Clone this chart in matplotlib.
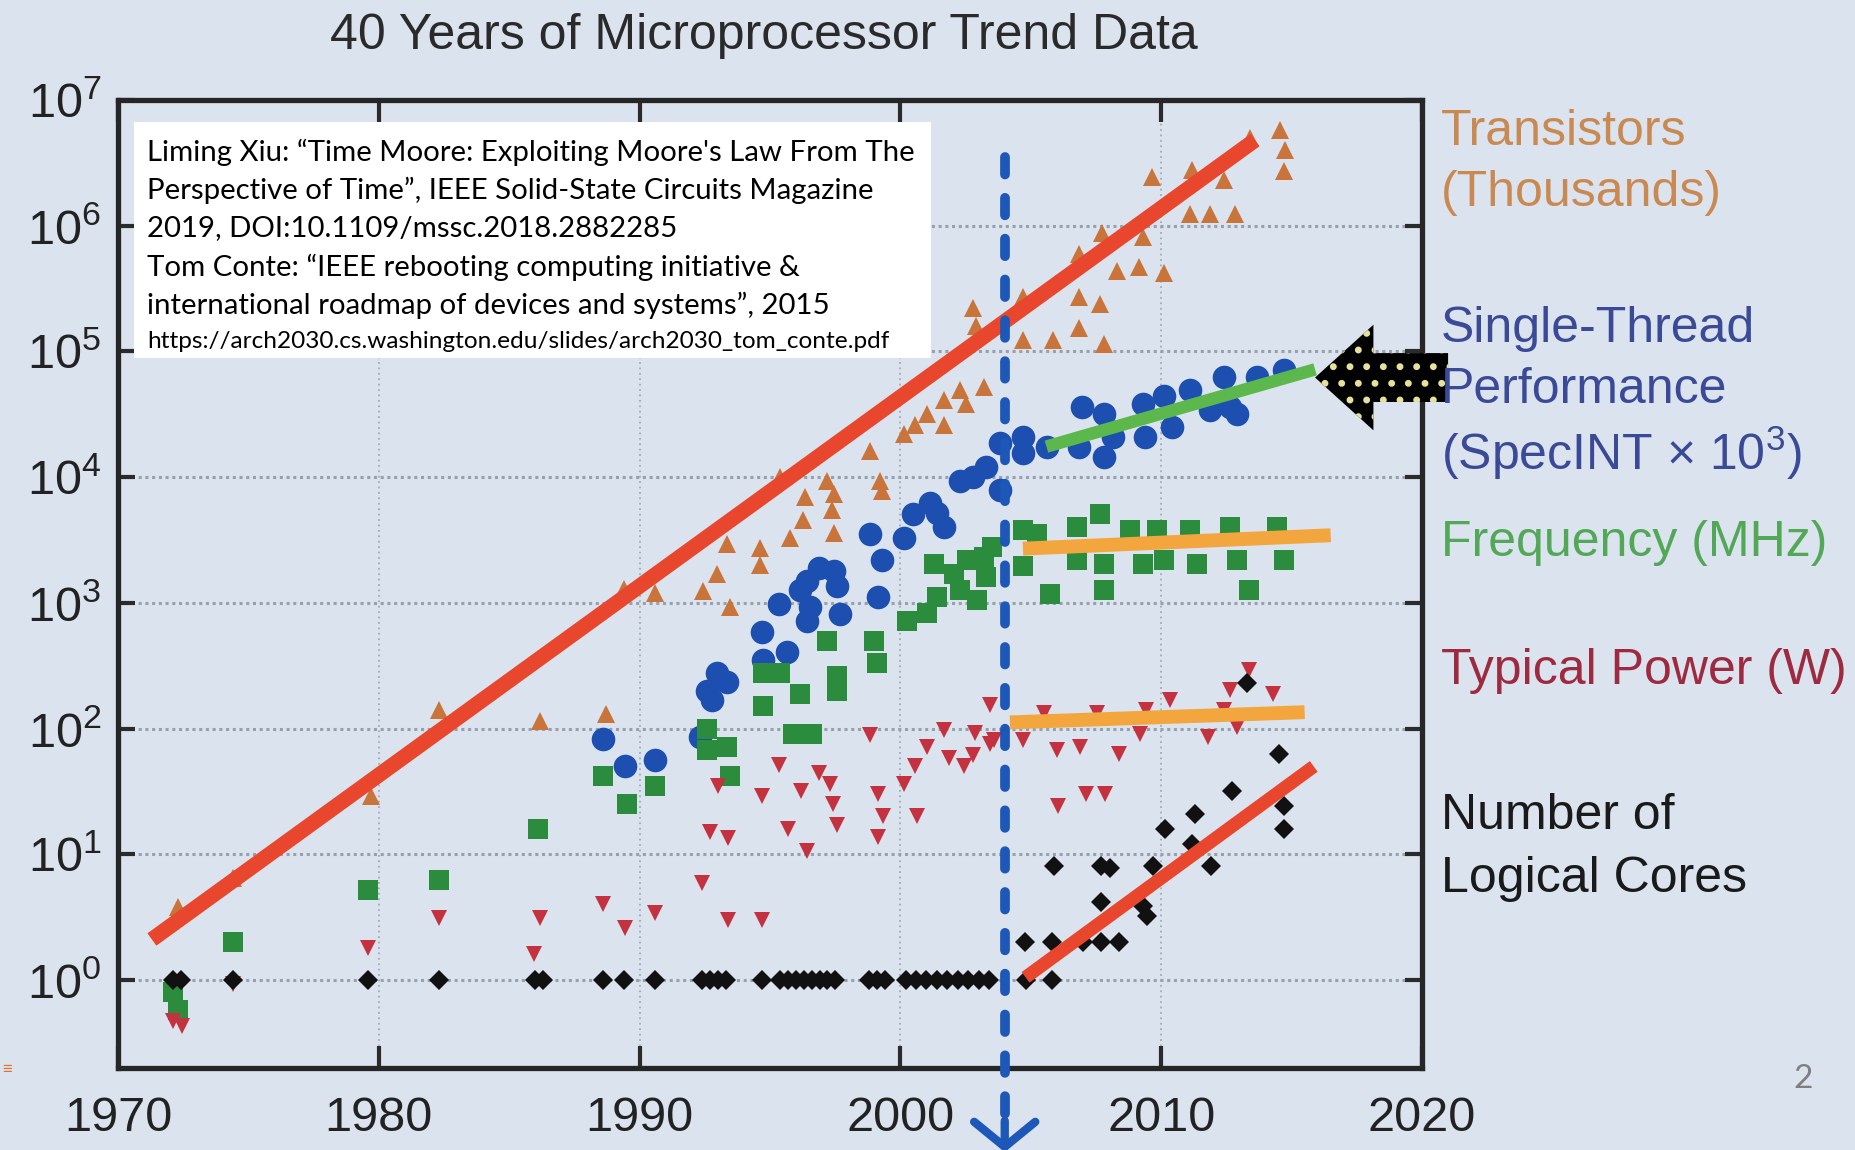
import matplotlib
matplotlib.use('Agg')
from matplotlib import pyplot as plt
from matplotlib.patches import Rectangle
from matplotlib.ticker import FixedLocator, FuncFormatter, NullLocator
import numpy as np

plt.rcParams['font.family'] = ['Liberation Sans', 'DejaVu Sans']
plt.rcParams['mathtext.fontset'] = 'custom'
plt.rcParams['mathtext.rm'] = 'Liberation Sans'
plt.rcParams['mathtext.it'] = 'Liberation Sans:italic'
plt.rcParams['mathtext.bf'] = 'Liberation Sans:bold'
plt.rcParams['hatch.linewidth'] = 2.5

BG = '#dbe3ef'

# --- data ------------------------------------------------------------------
transistor_years = [1972.3, 1974.4, 1979.7, 1982.3, 1986.2, 1988.7, 1989.4, 1990.6, 1992.45, 1992.96,
                    1993.47, 1993.34, 1994.62, 1994.62, 1995.77, 1996.28, 1996.35, 1997.18, 1997.44,
                    1997.37, 1997.44, 1995.39, 1998.84, 1999.23, 1999.29, 2000.12, 2000.57, 2001.02,
                    2001.66, 2001.66, 2002.3, 2002.5, 2003.2, 2002.8, 2002.9, 2004.72, 2004.72, 2005.87,
                    2006.83, 2006.83, 2006.83, 2007.72, 2007.66, 2007.79, 2008.3, 2009.13, 2009.3,
                    2010.09, 2009.64, 2011.11, 2011.18, 2011.88, 2012.4, 2012.84, 2013.41, 2014.57,
                    2014.76, 2014.7]
transistor_values = [3.8, 6.5, 29, 140, 115, 130, 1300, 1200, 1250, 1700,
                     930, 2950, 2750, 2000, 3300, 4600, 6900, 9300, 7400,
                     5500, 3600, 10000, 16000, 9300, 7800, 22000, 26000, 32000,
                     26000, 41000, 49000, 38000, 52000, 220000, 160000, 270000, 123000, 123000,
                     600000, 270000, 155000, 870000, 240000, 115000, 440000, 470000, 810000,
                     420000, 2.45e6, 1.23e6, 2.75e6, 1.23e6, 2.3e6, 1.23e6, 5.0e6, 5.75e6,
                     4.0e6, 2.7e6]

single_thread_years = [1988.6, 1989.44, 1990.6, 1992.32, 1992.77, 1992.96, 1993.34, 1992.58, 1994.69,
                       1994.75, 1995.65, 1995.33, 1996.16, 1996.41, 1996.86, 1997.44, 1997.57, 1997.69,
                       1996.41, 1996.54, 1998.84, 1999.29, 1999.16, 2000.12, 2000.5, 2001.14, 2001.66,
                       2001.4, 2002.3, 2002.8, 2003.3, 2003.83, 2003.83, 2004.72, 2004.72, 2005.61,
                       2006.83, 2006.96, 2007.79, 2007.79, 2008.17, 2009.32, 2009.39, 2010.09, 2010.41,
                       2011.11, 2011.88, 2012.4, 2012.65, 2012.9, 2013.67, 2014.7]
single_thread_values = [83, 50, 56, 85, 170, 275, 235, 200, 590,
                        350, 410, 980, 1260, 1500, 1900, 1780, 1350, 810,
                        720, 930, 3550, 2200, 1120, 3300, 5100, 6200, 4000,
                        5200, 9300, 10000, 12000, 18600, 7900, 21000, 15500, 17400,
                        17400, 36000, 32000, 14500, 21000, 38000, 21000, 44000, 25000,
                        49000, 34000, 63000, 36000, 32000, 63000, 71000]

frequency_years = [1972.1, 1972.3, 1974.4, 1979.6, 1982.3, 1986.1, 1988.6, 1989.5, 1990.6, 1992.58,
                   1992.58, 1993.34, 1993.47, 1994.75, 1994.75, 1995.39, 1996.16, 1995.9, 1996.6,
                   1997.18, 1997.57, 1997.57, 1998.97, 1999.1, 2000.25, 2001.02, 2001.4, 2001.27,
                   2002.04, 2002.55, 2002.93, 2003.3, 2003.2, 2002.3, 2003.5, 2004.72, 2004.72,
                   2005.74, 2005.23, 2006.77, 2006.77, 2007.66, 2007.79, 2007.79, 2008.81, 2009.32,
                   2009.83, 2010.09, 2011.11, 2011.37, 2012.65, 2012.9, 2013.35, 2014.44, 2014.7]
frequency_values = [0.81, 0.58, 2.0, 5.2, 6.2, 16, 42, 25, 35, 100,
                    68, 71, 42, 150, 275, 275, 190, 91, 91,
                    500, 260, 200, 500, 330, 720, 830, 1120, 2040,
                    1700, 2200, 1050, 1600, 2300, 1260, 2800, 3800, 1950,
                    1170, 3550, 4000, 2200, 5100, 2040, 1260, 3800, 2040,
                    3800, 2200, 3800, 2040, 4000, 2200, 1260, 4000, 2200]

power_years = [1972.1, 1972.45, 1974.4, 1979.6, 1982.3, 1986.2, 1985.95, 1988.6, 1989.44, 1990.6,
               1992.4, 1992.7, 1993.4, 1993.4, 1994.7, 1993.0, 1994.7, 1995.33, 1995.7, 1996.2,
               1996.4, 1996.86, 1997.3, 1997.4, 1997.56, 1998.84, 1999.16, 1999.35, 1999.16, 2000.12,
               2000.57, 2000.63, 2001.02, 2001.66, 2001.85, 2002.42, 2002.8, 2002.87, 2003.44, 2003.44,
               2003.6, 2004.72, 2005.5, 2006.0, 2006.06, 2006.9, 2007.1, 2007.53, 2007.85, 2008.4,
               2009.2, 2009.4, 2010.35, 2011.8, 2012.4, 2012.65, 2012.9, 2013.35, 2014.3]
power_values = [0.47, 0.43, 0.93, 1.8, 3.1, 3.1, 1.6, 4.0, 2.6, 3.4,
                5.9, 15, 13.5, 3.0, 3.0, 35, 29, 51, 16, 32,
                10.7, 44, 36, 25, 17, 89, 30, 20, 13.8, 36,
                50, 20, 71, 98, 58, 50, 62, 93, 76, 155,
                81, 81, 132, 68, 24, 71, 30, 132, 30, 63,
                91, 141, 170, 85, 141, 204, 102, 290, 190]

cores_years = [1972.1, 1972.4, 1974.4, 1979.6, 1982.3, 1986.0, 1986.3, 1988.6, 1989.4, 1990.6,
               1992.4, 1992.7, 1993.0, 1993.3, 1994.7, 1995.4, 1995.7, 1996.0, 1996.3, 1996.6,
               1996.9, 1997.2, 1997.5, 1998.8, 1999.1, 1999.4, 2000.2, 2000.6, 2001.0, 2001.4,
               2001.8, 2002.2, 2002.6, 2003.0, 2003.4, 2004.8, 2005.8, 2004.78, 2005.8, 2007.0,
               2007.7, 2008.4, 2005.9, 2007.7, 2008.05, 2007.7, 2009.3, 2009.45, 2009.7, 2010.15,
               2011.2, 2011.3, 2011.9, 2012.7, 2013.3, 2014.5, 2014.7, 2014.7]
cores_values = [1, 1, 1, 1, 1, 1, 1, 1, 1, 1,
                1, 1, 1, 1, 1, 1, 1, 1, 1, 1,
                1, 1, 1, 1, 1, 1, 1, 1, 1, 1,
                1, 1, 1, 1, 1, 1, 1, 2, 2, 2,
                2, 2, 8, 8, 7.8, 4.2, 3.9, 3.2, 8.1, 16,
                12, 21, 8, 32, 230, 63, 24, 16]

# trend lines (start, end)
transistor_fit = ([1971.3, 2013.6], [2.1, 4.8e6])
single_thread_fit = ([2005.6, 2015.9], [1.75e4, 7.2e4])
frequency_fit = ([2004.7, 2016.5], [2700, 3450])
power_fit = ([2004.2, 2015.5], [112, 135])
cores_fit = ([2004.8, 2015.85], [1.05, 50])
dennard_year = 2004
dennard_span = [3.5e6, 10 ** -1.15]

year_ticks = [1970, 1980, 1990, 2000, 2010, 2020]
power_ticks = [1e0, 1e1, 1e2, 1e3, 1e4, 1e5, 1e6, 1e7]

series_labels = [
    (['Transistors', '(Thousands)'], '#c98a52', [132, 193]),
    (['Single-Thread', 'Performance', r'(SpecINT $\times$ 10$^{3}$)'], '#3b4a96', [329, 390, 453]),
    (['Frequency (MHz)'], '#52a856', [543]),
    (['Typical Power (W)'], '#9e2a40', [671]),
    (['Number of', 'Logical Cores'], '#1a1a1a', [816, 879]),
]

reference_lines = [
    'Liming Xiu: \u201cTime Moore: Exploiting Moore\'s Law From The',
    'Perspective of Time\u201d, IEEE Solid-State Circuits Magazine',
    '2019, DOI:10.1109/mssc.2018.2882285',
    'Tom Conte: \u201cIEEE rebooting computing initiative &',
    'international roadmap of devices and systems\u201d, 2015',
]
reference_url = 'https://arch2030.cs.washington.edu/slides/arch2030_tom_conte.pdf'

W, H = 1855, 1150
fig = plt.figure(figsize=(W / 100, H / 100), dpi=100, facecolor=BG)
ax = fig.add_axes([118 / W, 1 - 1068 / H, (1422 - 118) / W, (1068 - 100) / H])
ax.set_facecolor(BG)
ax.set_yscale('log')
ax.set_xlim(1970, 2020)
ax.set_ylim(10 ** -0.70, 1e7)
ax.set_axisbelow(True)

ax.plot(transistor_years, transistor_values, ls='none', marker='^', ms=13, mew=0, color='#c8743a', zorder=2)
ax.plot(single_thread_years, single_thread_values, ls='none', marker='o', ms=17, mew=0, color='#1c4fb0', zorder=2)
ax.plot(frequency_years, frequency_values, ls='none', marker='s', ms=15, mew=0, color='#2a8c3c', zorder=2)
ax.plot(power_years, power_values, ls='none', marker='v', ms=12, mew=0, color='#c4323f', zorder=2)
ax.plot(cores_years, cores_values, ls='none', marker='D', ms=10, mew=0, color='#111111', zorder=2)

ax.plot(*transistor_fit, color='#e8472e', lw=11, solid_capstyle='butt', zorder=3)
ax.plot(*cores_fit, color='#e8472e', lw=9.5, solid_capstyle='butt', zorder=3)
ax.plot(*single_thread_fit, color='#5cb84c', lw=9, solid_capstyle='butt', zorder=3)
ax.plot(*frequency_fit, color='#f4a63e', lw=10, solid_capstyle='butt', zorder=3)
ax.plot(*power_fit, color='#f4a63e', lw=10, solid_capstyle='butt', zorder=3)

ax.plot([dennard_year, dennard_year], dennard_span, color='#1d57b8', lw=7, ls=(0, (1.8, 2.4)),
        dash_capstyle='round', clip_on=False, zorder=4)
ax.annotate('', xy=(dennard_year, 10 ** -1.37), xytext=(dennard_year, 10 ** -1.12),
            arrowprops=dict(arrowstyle='->,head_length=0.45,head_width=0.55', color='#1d57b8', lw=6,
                            mutation_scale=40, shrinkA=0, shrinkB=0),
            annotation_clip=False, zorder=4)

ax.annotate('', xy=(single_thread_fit[0][1], 6.2e4), xytext=(2021.0, 6.2e4),
            arrowprops=dict(arrowstyle='simple,head_length=1.05,head_width=1.9,tail_width=0.88',
                            mutation_scale=40, fc='black', ec='#e6e29a', lw=0, hatch='.',
                            shrinkA=0, shrinkB=0),
            annotation_clip=False, zorder=5)

ax.xaxis.set_major_locator(FixedLocator(year_ticks))
ax.yaxis.set_major_locator(FixedLocator(power_ticks))
ax.yaxis.set_minor_locator(NullLocator())
ax.yaxis.set_major_formatter(FuncFormatter(
    lambda v, pos: r'$\mathregular{10^{%d}}$' % int(round(np.log10(v)))))
ax.tick_params(which='major', direction='in', width=3, top=True, right=True,
               labelsize=35, color='#2b2b2b', labelcolor='#222222')
ax.tick_params(axis='x', length=16, pad=20)
ax.tick_params(axis='y', length=12, pad=12)

ax.grid(axis='y', ls=(0, (1, 1.2)), lw=2.2, color='#97a0ab')
ax.grid(axis='x', ls=(0, (1, 2)), lw=1.3, color='#a3abb5')

for spine in ax.spines.values():
    spine.set_linewidth(3.8)
    spine.set_color('#262626')

fig.text(764 / W, 0.969, '40 Years of Microprocessor Trend Data', ha='center', va='center',
         fontsize=36, color='#2a2a2a')

for lines, color, ys in series_labels:
    for line, y in zip(lines, ys):
        fig.text(1441 / W, 1 - y / H, line, ha='left', va='center', fontsize=36, color=color, zorder=6)

fig.add_artist(Rectangle((134 / W, 1 - 358 / H), (931 - 134) / W, (358 - 122) / H,
                         transform=fig.transFigure, fc='white', ec='none', zorder=5))
for line, y in zip(reference_lines, [152.6, 190, 228, 267, 305]):
    fig.text(147 / W, 1 - y / H, line, ha='left', va='center', fontsize=21.2,
             family=['Lato', 'DejaVu Sans'], color='black', zorder=6)
fig.text(147 / W, 1 - 341 / H, reference_url, ha='left', va='center', fontsize=17.6,
         family=['Lato', 'DejaVu Sans'], color='black', zorder=6)

fig.text(1803 / W, 1 - 1079 / H, '2', ha='center', va='center', fontsize=24,
         family=['Lato', 'DejaVu Sans'], color='#7f7f7f')
fig.text(0.001, 1 - 1069 / H, '\u2261', ha='left', va='center', fontsize=12, color='#f26b21')

fig.savefig('out.png', dpi=100, facecolor=BG)
